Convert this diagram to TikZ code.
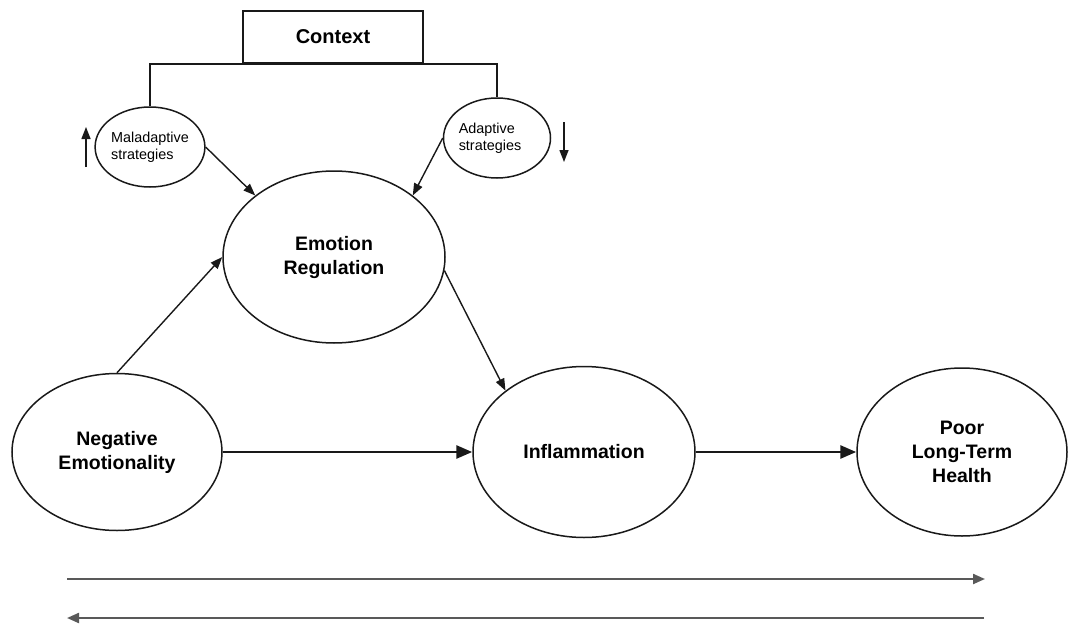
\documentclass[tikz,border=0pt]{standalone}
\usepackage{fontspec}
\setmainfont{Liberation Sans}
\usetikzlibrary{shapes.geometric,arrows.meta}
\tikzset{
  bigell/.style={ellipse,draw=black!90,line width=1.5pt,inner sep=0pt,align=center,
     font=\bfseries\fontsize{19.5}{24}\selectfont},
  smallell/.style={ellipse,draw=black!90,line width=1.5pt,inner sep=0pt,align=left,
     font=\fontsize{14.4}{17}\selectfont},
  ctxbox/.style={rectangle,draw=black!90,line width=1.5pt,minimum width=180pt,minimum height=52pt,
     inner sep=0pt,font=\bfseries\fontsize{20}{24}\selectfont},
  thinarr/.style={draw=black!90,line width=1.4pt,-{Triangle[length=12pt,width=9pt]}},
  thickarr/.style={draw=black!90,line width=2.8pt,-{Triangle[length=16pt,width=13pt]}},
  timearr/.style={draw=black!65,line width=2.2pt,-{Triangle[length=12pt,width=10pt]}},
  bracket/.style={draw=black!90,line width=1.5pt}
}
\begin{document}
\begin{tikzpicture}[x=1pt,y=-1pt]
\useasboundingbox (0,0) rectangle (1069,624);
\node[ctxbox] (ctx) at (333,37) {Context};
\node[smallell,minimum width=106pt,minimum height=80pt] (mal) at (150,147) {Maladaptive\\strategies};
\node[smallell,minimum width=107pt,minimum height=80pt] (adp) at (497,138) {\hspace*{-14pt}Adaptive\\\hspace*{-14pt}strategies};
\node[bigell,minimum width=222pt,minimum height=172pt] (er) at (334,257) {Emotion\\Regulation};
\node[bigell,minimum width=210pt,minimum height=157pt] (ne) at (117,452) {Negative\\Emotionality};
\node[bigell,minimum width=222pt,minimum height=171pt] (infl) at (584,452) {Inflammation};
\node[bigell,minimum width=210pt,minimum height=168pt] (poor) at (962,452) {Poor\\Long-Term\\Health};

\draw[bracket] (mal.north) |- (ctx.south) -| (adp.north);

\coordinate (upA) at (86,167);
\coordinate (upB) at (86,127);
\coordinate (dnA) at (564,122);
\coordinate (dnB) at (564,162);
\draw[thinarr] (upA) -- (upB);
\draw[thinarr] (dnA) -- (dnB);

\draw[thinarr] (mal.east) -- (er.142);
\draw[thinarr] (adp.west) -- (er.38.6);
\draw[thinarr] (ne.north) -- (er.west);
\draw[thinarr] (er.-7) -- (infl.142);
\draw[thickarr] (ne.east) -- (infl.west);
\draw[thickarr] (infl.east) -- (poor.west);

\coordinate (r1) at (67,579);
\coordinate (r2) at (985,579);
\coordinate (l1) at (984,618);
\coordinate (l2) at (67,618);
\draw[timearr] (r1) -- (r2);
\draw[timearr] (l1) -- (l2);
\end{tikzpicture}
\end{document}
